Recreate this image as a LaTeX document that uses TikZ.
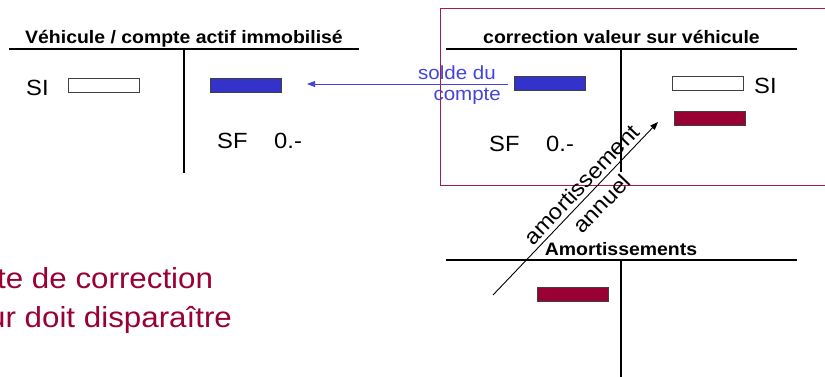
\documentclass[tikz,border=0pt]{standalone}
\usepackage{fontspec}
\setmainfont{Liberation Sans}[FakeStretch=1.08]
\usetikzlibrary{arrows.meta}
\definecolor{boxblue}{HTML}{3333CC}
\definecolor{txtblue}{HTML}{4444DD}
\definecolor{wine}{HTML}{990033}
\definecolor{framered}{HTML}{A81A4A}
\begin{document}
\begin{tikzpicture}[x=1pt,y=-1pt,
  ttl/.style={font=\bfseries\fontsize{18}{20}\selectfont, inner sep=0, anchor=base},
  lbl/.style={font=\fontsize{22}{24}\selectfont, inner sep=0, anchor=base west},
  bluetxt/.style={font=\fontsize{19}{21}\selectfont, text=txtblue, inner sep=0, anchor=base east},
  bigtxt/.style={font=\fontsize{29}{32}\selectfont, text=wine, inner sep=0, anchor=base west},
  diagtxt/.style={font=\fontsize{22}{24}\selectfont, inner sep=0},
  tline/.style={line width=1.7pt},
  acct/.style={draw=black!75, line width=0.8pt, minimum width=71pt, minimum height=14pt, inner sep=0},
  whitebox/.style={acct, fill=white},
  bluebox/.style={acct, fill=boxblue},
  winebox/.style={acct, fill=wine},
  bluearr/.style={draw=txtblue, line width=0.9pt, -{Triangle[length=8pt,width=6pt]}},
  diagarr/.style={draw=black, line width=0.9pt, -{Triangle[length=8pt,width=6pt]}},
  frame/.style={draw=framered, line width=1pt}]
\useasboundingbox (0,0) rectangle (825,376);
\clip (0,0) rectangle (825,376);

% frame around correction account
\draw[frame] (440,8) rectangle (840,185);

% left account
\node[ttl] (t1) at (184,43) {Véhicule / compte actif immobilisé};
\draw[tline] (9,49) -- (359,49);
\draw[tline] (184,49) -- (184,173);
\node[lbl] (si1) at (26,95) {SI};
\node[whitebox] (lwhite) at (104,85) {};
\node[bluebox] (lblue) at (246,85) {};
\node[lbl] (sf1) at (217,148) {SF};
\node[lbl] (z1) at (274,148) {0.-};

% right account
\node[ttl] (t2) at (621.5,43) {correction valeur sur véhicule};
\draw[tline] (446,49) -- (797,49);
\draw[tline] (621,49) -- (621,172);
\node[bluebox] (rblue) at (549.5,83.5) {};
\node[whitebox] (rwhite) at (707.5,83.5) {};
\node[lbl] (si2) at (754,93) {SI};
\node[winebox] (rred) at (709.5,118) {};
\node[lbl] (sf2) at (489,151) {SF};
\node[lbl] (z2) at (546,151) {0.-};

% solde du compte
\node[bluetxt] (solde) at (496,79) {solde du};
\node[bluetxt] (compte) at (501,100) {compte};
\coordinate (soldeStart) at (508,84);
\coordinate (soldeTip) at (307,84);
\draw[bluearr] (soldeStart) -- (soldeTip);

% amortissements account
\node[ttl] (t3) at (621,255) {Amortissements};
\draw[tline] (446,260) -- (797,260);
\draw[tline] (621,260) -- (621,380);
\node[winebox] (bred) at (572.5,294.5) {};

% diagonal arrow
\coordinate (dstart) at (493,295);
\coordinate (dend) at (658,122);
\draw[diagarr] (dstart) -- (dend)
  node[diagtxt, pos=0.59, sloped, above=4pt] (am) {amortissement}
  node[diagtxt, pos=0.59, sloped, below=7pt] (an) {annuel};

% bottom-left text
\node[bigtxt] (l1) at (-3,288) {te de correction};
\node[bigtxt] (l2) at (-12,327) {ur doit disparaître};
\end{tikzpicture}
\end{document}
